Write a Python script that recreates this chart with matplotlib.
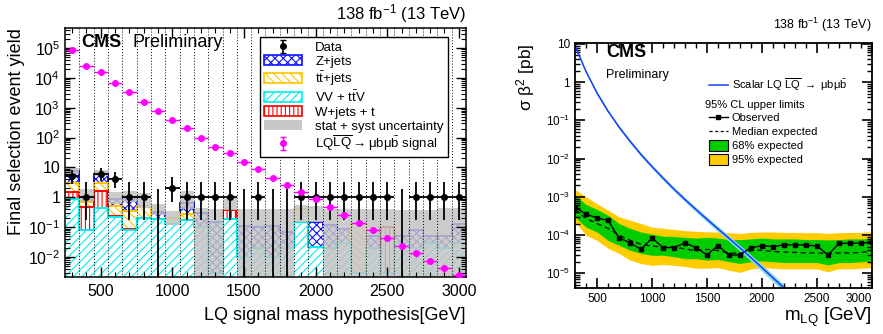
import numpy as np
import matplotlib
matplotlib.use("Agg")
import matplotlib.pyplot as plt
from matplotlib.patches import Patch
from matplotlib.lines import Line2D
from matplotlib.ticker import FixedLocator, LogLocator, NullFormatter, MultipleLocator

plt.rcParams["font.family"] = ["Liberation Sans", "DejaVu Sans"]
plt.rcParams["mathtext.fontset"] = "custom"
plt.rcParams["mathtext.rm"] = "Liberation Sans"
plt.rcParams["mathtext.it"] = "Liberation Sans:italic"
plt.rcParams["mathtext.bf"] = "Liberation Sans:bold"
plt.rcParams["hatch.linewidth"] = 0.8

# ---- left panel: final selection yields per LQ mass bin ----
masses = list(range(300, 3100, 100))

bkg_vv = [0.85, 0.083, 0.45, 0.22, 0.08, 0.21, 0.19, 0.13, 0.17, 0.10, 0.003, 0.19, 0.01, 0.02,
          0.01, 0.02, 0.15, 0.022, 0.02, 0.03, 0.003, 0.02, 0.003, 0.03, 0.02, 0.03, 0.02, 0.03]
bkg_w = [0.7, 0.4, 1.15, 0.02, 0.01, 0, 0, 0, 0, 0, 0, 0.18, 0, 0,
         0, 0, 0, 0, 0, 0, 0, 0, 0.1, 0, 0, 0, 0, 0]
bkg_tt = [1.55, 0.22, 1.3, 0.28, 0.26, 0.29, 0, 0.07, 0.1, 0, 0, 0, 0, 0,
          0, 0, 0.25, 0, 0, 0, 0.12, 0, 0, 0, 0, 0, 0, 0]
bkg_z = [4.4, 0.3, 3.3, 0.38, 0.65, 0, 0.12, 0, 0.38, 0.2, 0.15, 0, 0.1, 0.08,
         0.1, 0.05, 0, 0.13, 0.1, 0.06, 0, 0.03, 0, 0.02, 0.06, 0.02, 0.03, 0.1]
unc_lo = [6.0, 0.75, 5.0, 0.6, 0.7, 0.45, 0.25, 0.12, 0.4, 1e-3, 1e-3, 0.37, 1e-3, 1e-3,
          1e-3, 1e-3, 0.15, 0.15, 1e-3, 1e-3, 1e-3, 1e-3, 1e-3, 1e-3, 1e-3, 1e-3, 1e-3, 1e-3]
unc_hi = [9.5, 1.9, 8.0, 1.5, 1.6, 1.4, 0.6, 0.35, 1.6, 0.45, 0.42, 1.0, 0.42, 0.42,
          0.42, 0.42, 0.55, 0.5, 0.42, 0.4, 0.4, 0.4, 0.4, 0.38, 0.38, 0.38, 0.45, 0.45]

data = [5, 1, 6, 4, 1, 1, 0, 2, 1, 1, 1, 1, 0, 1, 0, 0, 1, 1, 1, 1, 1, 1, 1, 0, 1, 1, 1, 1]
poisson_lo = {0: 0.0, 1: 0.83, 2: 1.29, 4: 1.91, 5: 2.16, 6: 2.38}
poisson_hi = {0: 1.84, 1: 2.30, 2: 2.64, 4: 3.16, 5: 3.38, 6: 3.58}

signal = [8.5e4, 2.5e4, 1.6e4, 6.6e3, 3.3e3, 1.6e3, 780, 400, 205, 98, 50, 31, 15, 8.6,
          4.5, 2.5, 1.5, 0.86, 0.46, 0.26, 0.14, 0.082, 0.044, 0.024, 0.0136, 0.0076, 0.0042, 0.0024]
signal_rel_err = [0.02, 0.02, 0.02, 0.03, 0.03, 0.04, 0.05, 0.05, 0.06, 0.07, 0.08, 0.09, 0.1, 0.12,
                  0.13, 0.15, 0.16, 0.18, 0.2, 0.2, 0.22, 0.22, 0.23, 0.24, 0.25, 0.26, 0.27, 0.28]

left_yticks = [1e-2, 1e-1, 1, 10, 1e2, 1e3, 1e4, 1e5]
left_yticklabels = ["10$^{-2}$", "10$^{-1}$", "1", "10", "10$^{2}$", "10$^{3}$", "10$^{4}$", "10$^{5}$"]

# ---- right panel: limits ----
lim_mass = masses
obs = [5.4e-4, 3.5e-4, 2.8e-4, 2.4e-4, 8.4e-5, 6.3e-5, 4.2e-5, 8.3e-5, 4.7e-5, 4.7e-5, 6.2e-5, 4.7e-5, 3.0e-5, 5.3e-5,
       3.0e-5, 3.0e-5, 4.7e-5, 5.2e-5, 5.0e-5, 5.5e-5, 5.6e-5, 5.4e-5, 5.2e-5, 3.0e-5, 6.0e-5, 6.1e-5, 6.2e-5, 6.4e-5]
exp_med = [4.7e-4, 2.7e-4, 2.0e-4, 1.5e-4, 9.9e-5, 7.3e-5, 5.7e-5, 5.1e-5, 4.9e-5, 4.9e-5, 4.3e-5, 3.9e-5, 4.2e-5, 3.9e-5,
           3.4e-5, 3.3e-5, 3.9e-5, 4.0e-5, 3.7e-5, 3.6e-5, 3.5e-5, 3.4e-5, 3.4e-5, 3.3e-5, 3.4e-5, 3.4e-5, 3.5e-5, 3.8e-5]
exp68_hi = [1.1e-3, 6.3e-4, 4.7e-4, 3.3e-4, 2.0e-4, 1.5e-4, 1.2e-4, 1.05e-4, 9.3e-5, 9.1e-5, 8.7e-5, 8.3e-5, 8.7e-5, 8.3e-5,
            7.6e-5, 7.6e-5, 7.9e-5, 8.3e-5, 7.9e-5, 7.9e-5, 7.9e-5, 7.6e-5, 7.6e-5, 7.4e-5, 7.6e-5, 7.9e-5, 7.9e-5, 8.3e-5]
exp68_lo = [2.95e-4, 1.6e-4, 1.2e-4, 7.2e-5, 5.4e-5, 4.0e-5, 3.3e-5, 2.95e-5, 2.95e-5, 2.7e-5, 2.4e-5, 2.4e-5, 2.2e-5, 2.3e-5,
            2.0e-5, 1.8e-5, 2.0e-5, 2.1e-5, 2.0e-5, 1.9e-5, 1.9e-5, 1.9e-5, 1.9e-5, 1.65e-5, 1.9e-5, 1.9e-5, 2.0e-5, 2.1e-5]
exp95_hi = [1.55e-3, 1.0e-3, 6.6e-4, 4.5e-4, 3.0e-4, 2.45e-4, 2.0e-4, 1.6e-4, 1.5e-4, 1.4e-4, 1.3e-4, 1.25e-4, 1.2e-4, 1.2e-4,
            1.15e-4, 1.1e-4, 1.17e-4, 1.2e-4, 1.2e-4, 1.17e-4, 1.17e-4, 1.15e-4, 1.15e-4, 1.1e-4, 1.15e-4, 1.17e-4, 1.17e-4, 1.2e-4]
exp95_lo = [2.2e-4, 1.0e-4, 7.2e-5, 4.5e-5, 3.3e-5, 2.2e-5, 1.8e-5, 1.6e-5, 1.7e-5, 1.6e-5, 1.5e-5, 1.35e-5, 1.35e-5, 1.4e-5,
            1.2e-5, 1.05e-5, 1.3e-5, 1.4e-5, 1.35e-5, 1.3e-5, 1.3e-5, 1.3e-5, 1.3e-5, 1.1e-5, 1.3e-5, 1.3e-5, 1.35e-5, 1.4e-5]

theory_mass = [300, 400, 500, 600, 700, 800, 900, 1000, 1100, 1200, 1300, 1400, 1500,
               1600, 1700, 1800, 1900, 2000, 2100, 2200, 2300, 2400]
theory_xsec = [9.0, 1.9, 0.52, 0.175, 0.067, 0.0285, 0.0128, 0.0062, 0.0031, 0.00159, 8.5e-4, 4.65e-4, 2.58e-4,
               1.45e-4, 8.2e-5, 4.6e-5, 2.55e-5, 1.4e-5, 7.6e-6, 4.1e-6, 2.2e-6, 1.2e-6]
theory_rel_unc = [0.08, 0.08, 0.09, 0.09, 0.1, 0.1, 0.11, 0.11, 0.12, 0.12, 0.13, 0.14, 0.15,
                  0.16, 0.17, 0.18, 0.19, 0.2, 0.21, 0.22, 0.23, 0.24]

right_xticks = [500, 1000, 1500, 2000, 2500, 3000]

C_VV, C_W, C_TT, C_Z = "#00f0f0", "#ff0000", "#ffc400", "#1010ff"


def main() -> None:
    fig = plt.figure(figsize=(8.83, 3.34), dpi=100)
    ax1 = fig.add_axes([0.0736, 0.1707, 0.4541, 0.7455])
    ax2 = fig.add_axes([0.6512, 0.1377, 0.3363, 0.7335])

    # ---------------- left panel ----------------
    m = np.array(masses, dtype=float)
    edges = np.append(m - 50, m[-1] + 50)
    floor = 1e-4

    layers = [(bkg_vv, C_VV, "////"), (bkg_w, C_W, "||||"),
              (bkg_tt, C_TT, "\\\\\\\\"), (bkg_z, C_Z, "xxxx")]
    cum = np.zeros(len(m))
    tops = []
    for vals, color, hatch in layers:
        top = cum + np.array(vals)
        ax1.stairs(top, edges, baseline=np.maximum(cum, floor), fill=True,
                   facecolor="white", edgecolor=color, hatch=hatch, linewidth=0)
        tops.append((top, color))
        cum = top
    for top, color in reversed(tops):
        ax1.stairs(np.maximum(top, floor), edges, color=color, linewidth=1.4, baseline=None)

    # stat + syst band drawn over the stack
    ax1.stairs(unc_hi, edges, baseline=unc_lo, fill=True, color="#c4c4c4", alpha=0.85, linewidth=0)

    for e in edges[1:-1]:
        ax1.axvline(e, color="black", ls=(0, (1, 2)), lw=0.7, zorder=1.5)

    d = np.array(data, dtype=float)
    elo = [poisson_lo[v] for v in data]
    ehi = [poisson_hi[v] for v in data]
    ax1.errorbar(m, d, yerr=[elo, ehi], xerr=50, fmt="o", color="black", ms=4,
                 elinewidth=1.3, capsize=0, zorder=5)

    s = np.array(signal)
    serr = s * np.array(signal_rel_err)
    ax1.errorbar(m, s, yerr=serr, xerr=50, fmt="o", color="#ff00ff", ms=4,
                 elinewidth=1.0, capsize=0, zorder=6)

    # legend-only handles (vertical bars only, as in the original)
    data_h = ax1.errorbar([np.nan], [np.nan], yerr=[1], fmt="o", color="black", ms=4,
                          elinewidth=1.2, capsize=2.5)
    sig_h = ax1.errorbar([np.nan], [np.nan], yerr=[1], fmt="o", color="#ff00ff", ms=4,
                         elinewidth=1.0, capsize=2.5)

    ax1.set_yscale("log")
    ax1.set_xlim(250, 3050)
    ax1.set_ylim(2.14e-3, 4.7e5)
    ax1.yaxis.set_major_locator(FixedLocator(left_yticks))
    ax1.set_yticklabels(left_yticklabels)
    ax1.yaxis.set_minor_locator(LogLocator(base=10, subs=np.arange(2, 10), numticks=20))
    ax1.yaxis.set_minor_formatter(NullFormatter())
    ax1.xaxis.set_major_locator(MultipleLocator(500))
    ax1.xaxis.set_minor_locator(MultipleLocator(100))
    ax1.tick_params(which="both", direction="in", top=True, right=True, labelsize=11.5)
    ax1.tick_params(which="major", length=7, width=1)
    ax1.tick_params(which="minor", length=3.5, width=0.8)
    ax1.tick_params(axis="x", pad=5)
    for sp in ax1.spines.values():
        sp.set_linewidth(1.1)

    ax1.set_xlabel("LQ signal mass hypothesis[GeV]", fontsize=13, loc="right", labelpad=6)
    ax1.set_ylabel("Final selection event yield", fontsize=13, loc="top", labelpad=2)
    ax1.text(1.0, 1.012, "138 fb$^{-1}$ (13 TeV)", transform=ax1.transAxes,
             ha="right", va="bottom", fontsize=12)
    ax1.text(0.04, 0.94, "CMS", transform=ax1.transAxes, fontsize=13,
             fontweight="bold", va="center")
    ax1.text(0.168, 0.94, "Preliminary", transform=ax1.transAxes, fontsize=13, va="center")

    handles = [data_h,
               Patch(facecolor="white", edgecolor=C_Z, hatch="xxxx", lw=1.2),
               Patch(facecolor="white", edgecolor=C_TT, hatch="\\\\\\\\", lw=1.2),
               Patch(facecolor="white", edgecolor=C_VV, hatch="////", lw=1.2),
               Patch(facecolor="white", edgecolor=C_W, hatch="||||", lw=1.2),
               Patch(facecolor="#c8c8c8", edgecolor="none"),
               sig_h]
    labels = ["Data", "Z+jets", r"t$\bar{\mathrm{t}}$+jets", r"VV + t$\bar{\mathrm{t}}$V", "W+jets + t",
              "stat + syst uncertainty",
              r"LQ$\overline{\mathrm{LQ}}$$\rightarrow$μbμ$\bar{\mathrm{b}}$ signal"]
    leg = ax1.legend(handles, labels, loc="upper left", bbox_to_anchor=(0.486, 0.962),
                     fontsize=9.5, frameon=True, fancybox=False, edgecolor="black",
                     framealpha=1, borderaxespad=0, handlelength=2.9, handleheight=0.8,
                     labelspacing=0.1, borderpad=0.3, handletextpad=1.0)
    leg.get_frame().set_linewidth(1.0)
    leg.set_zorder(10)

    # ---------------- right panel ----------------
    ax2.fill_between(lim_mass, exp95_lo, exp95_hi, color="#ffcc00", lw=0)
    ax2.fill_between(lim_mass, exp68_lo, exp68_hi, color="#00cc00", lw=0)
    ax2.plot(lim_mass, exp_med, color="black", ls=(0, (4, 3)), lw=0.9)
    ax2.plot(lim_mass, obs, color="black", lw=1.0, marker="s", ms=3.3)

    tx = np.array(theory_xsec)
    tu = np.array(theory_rel_unc)
    ax2.fill_between(theory_mass, tx * (1 - tu), tx * (1 + tu), color="#80dce6", lw=0)
    ax2.plot(theory_mass, tx, color="#1a3cff", lw=1.1)

    ax2.set_yscale("log")
    ax2.yaxis.set_major_locator(FixedLocator([1e-5, 1e-4, 1e-3, 1e-2, 1e-1, 1, 10]))
    ax2.set_yticklabels(["10$^{-5}$", "10$^{-4}$", "10$^{-3}$", "10$^{-2}$", "10$^{-1}$", "1", "10"])
    ax2.yaxis.set_minor_locator(LogLocator(base=10, subs=np.arange(2, 10), numticks=20))
    ax2.yaxis.set_minor_formatter(NullFormatter())
    ax2.set_xticks(right_xticks)
    ax2.set_xticklabels([str(v) for v in right_xticks])
    ax2.xaxis.set_minor_locator(MultipleLocator(100))
    ax2.set_xlim(300, 3000)
    ax2.set_ylim(4.1e-6, 10.6)
    ax2.tick_params(which="both", direction="in", top=True, right=True, labelsize=8.5)
    ax2.tick_params(which="major", length=7, width=1.2)
    ax2.tick_params(which="minor", length=3.5, width=1.0)
    # keep the last x label inside the figure
    ax2.xaxis.get_major_ticks()[-1].label1.set_horizontalalignment("right")
    for sp in ax2.spines.values():
        sp.set_linewidth(1.3)

    ax2.set_xlabel("m$_{\\mathrm{LQ}}$ [GeV]", fontsize=13.5, loc="right", labelpad=1)
    ax2.set_ylabel("σ β$^{2}$ [pb]", fontsize=12.5, loc="top", labelpad=6)
    ax2.text(1.0, 1.035, "138 fb$^{-1}$ (13 TeV)", transform=ax2.transAxes,
             ha="right", va="bottom", fontsize=9)
    ax2.text(0.104, 0.96, "CMS", transform=ax2.transAxes, fontsize=13,
             fontweight="bold", va="center")
    ax2.text(0.104, 0.868, "Preliminary", transform=ax2.transAxes, fontsize=9, va="center")

    leg1 = ax2.legend([Line2D([0], [0], color="#1a3cff", lw=1.1)],
                      [r"Scalar LQ $\overline{\mathrm{LQ}}$ $\rightarrow$ μbμ$\bar{\mathrm{b}}$"],
                      loc="center left", bbox_to_anchor=(0.45, 0.829), frameon=False,
                      fontsize=8, handlelength=1.7, handletextpad=0.4,
                      borderaxespad=0, borderpad=0)
    ax2.add_artist(leg1)
    ax2.text(0.438, 0.747, "95% CL upper limits", transform=ax2.transAxes,
             fontsize=8, va="center")
    h2 = [Line2D([0], [0], color="black", lw=1.0, marker="s", ms=3),
          Line2D([0], [0], color="black", lw=0.9, ls=(0, (2.5, 2))),
          Patch(facecolor="#00cc00", edgecolor="black", lw=0.8),
          Patch(facecolor="#ffcc00", edgecolor="black", lw=0.8)]
    l2 = ["Observed", "Median expected", "68% expected", "95% expected"]
    ax2.legend(h2, l2, loc="upper left", bbox_to_anchor=(0.45, 0.717), frameon=False,
               fontsize=8, handlelength=1.7, handleheight=1.1, handletextpad=0.4,
               labelspacing=0.25, borderaxespad=0, borderpad=0)

    fig.savefig("out.png", dpi=100)
    plt.close(fig)


if __name__ == "__main__":
    main()
